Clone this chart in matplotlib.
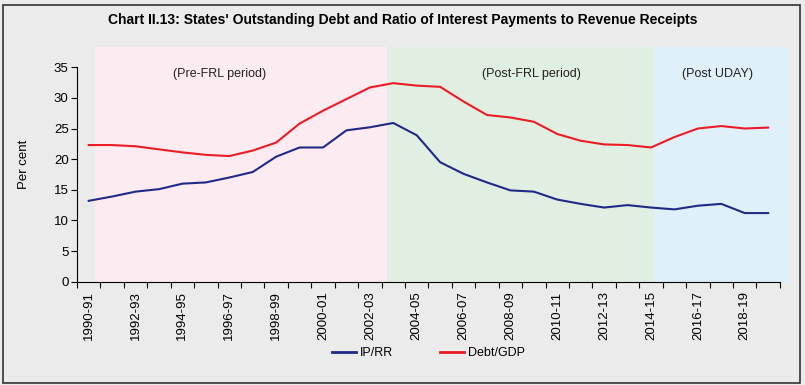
import matplotlib
matplotlib.use("Agg")
import matplotlib.pyplot as plt
from matplotlib.patches import Rectangle
from matplotlib.lines import Line2D

# Jahre 1990-91 bis 2019-20
years = [f"{y}-{str(y + 1)[-2:]}" for y in range(1990, 2020)]

ip_rr = [13.2, 13.9, 14.7, 15.1, 16.0, 16.2, 17.0, 17.9, 20.4, 21.9,
         21.9, 24.7, 25.2, 25.9, 23.9, 19.5, 17.6, 16.2, 14.9, 14.7,
         13.4, 12.7, 12.1, 12.5, 12.1, 11.8, 12.4, 12.7, 11.2, 11.2]
debt_gdp = [22.3, 22.3, 22.1, 21.6, 21.1, 20.7, 20.5, 21.4, 22.7, 25.8,
            27.9, 29.8, 31.7, 32.4, 32.0, 31.8, 29.4, 27.2, 26.8, 26.1,
            24.1, 23.0, 22.4, 22.3, 21.9, 23.6, 25.0, 25.4, 25.0, 25.15]

periods = ["(Pre-FRL period)", "(Post-FRL period)", "(Post UDAY)"]
period_edges = [0.27, 12.74, 24.14, 29.89]
period_label_x = [5.6, 18.9, 26.85]
period_colors = ["#fcecf1", "#e1efe3", "#dff0fb"]

bg = "#ebebeb"
plt.rcParams['font.family'] = ['Liberation Sans', 'DejaVu Sans']

fig = plt.figure(figsize=(8.05, 3.85), dpi=100, facecolor=bg)
ax = fig.add_axes([77 / 805, 1 - 281.7 / 385, (789 - 77) / 805, (281.7 - 47) / 385])
ax.set_facecolor(bg)

x = list(range(len(years)))

# Hintergrundbereiche
for i in range(len(periods)):
    ax.axvspan(period_edges[i], period_edges[i + 1], color=period_colors[i], lw=0, zorder=0)
    ax.text(period_label_x[i], 33.9, periods[i],
            ha='center', va='center', fontsize=9, color='#222222')

ax.plot(x, ip_rr, color='#1f2a87', lw=1.5, zorder=3)
ax.plot(x, debt_gdp, color='#ec1c24', lw=1.5, zorder=3)

ax.set_xlim(-0.5, 29.89)
ax.set_ylim(0, 38.3)
ax.set_yticks(range(0, 36, 5))
ax.spines['left'].set_bounds(0, 35)
ax.spines['bottom'].set_bounds(-0.5, 29.5)
for s in ['top', 'right']:
    ax.spines[s].set_visible(False)

ax.set_xticks([i + 0.5 for i in range(-1, 30)])
ax.set_xticklabels([])
ax.set_xticks(x[::2], minor=True)
ax.set_xticklabels(years[::2], minor=True, rotation=90, fontsize=9.5)
ax.tick_params(axis='x', which='minor', length=0, pad=7)
ax.tick_params(axis='x', which='major', length=4, direction='out')
ax.tick_params(axis='y', length=4, labelsize=9.5, pad=2)
ax.set_ylabel('Per cent', fontsize=9.5, labelpad=17)

fig.text(0.5, 1 - 20 / 385,
         "Chart II.13: States' Outstanding Debt and Ratio of Interest Payments to Revenue Receipts",
         ha='center', va='center', fontsize=10, fontweight='bold')

handles = [Line2D([], [], color='#1f2a87', lw=2),
           Line2D([], [], color='#ec1c24', lw=2)]
fig.legend(handles, ['IP/RR', 'Debt/GDP'], loc='center', bbox_to_anchor=(0.532, 1 - 353 / 385),
           ncol=2, frameon=False, handlelength=1.9, handletextpad=0.3, columnspacing=3.8,
           prop={'size': 9})

fig.patches.append(Rectangle((3 / 805, 2 / 385), 797 / 805, 378 / 385, transform=fig.transFigure,
                             fill=False, edgecolor='#333333', lw=1.2))

fig.savefig('out.png', dpi=100, facecolor=bg)
